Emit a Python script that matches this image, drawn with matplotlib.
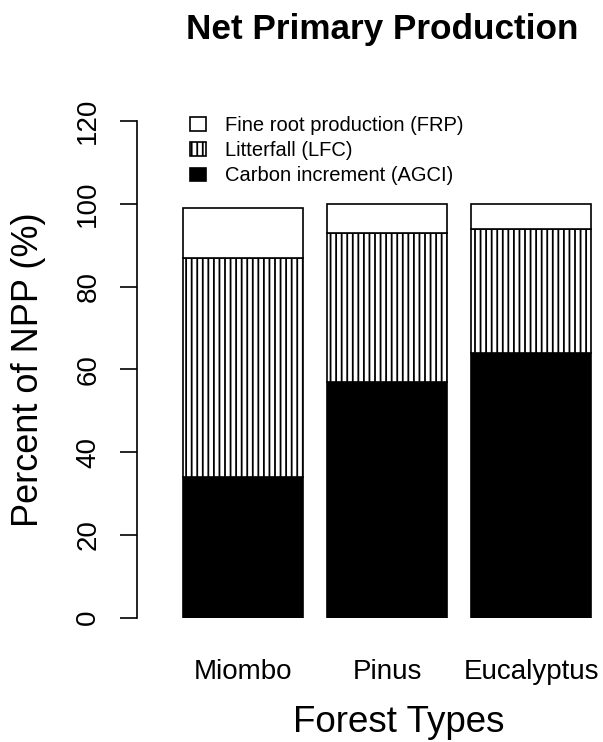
import numpy as np
import matplotlib
matplotlib.use("Agg")
import matplotlib.pyplot as plt

plt.rcParams['font.family'] = ['Liberation Sans', 'DejaVu Sans']
plt.rcParams['hatch.linewidth'] = 1.3

# data (percent of NPP)
forests = ['Miombo', 'Pinus', 'Eucalyptus']
agci = [34, 57, 64]   # carbon increment
lfc = [53, 36, 30]    # litterfall
frp = [12, 7, 6]      # fine root production
yticks = [0, 20, 40, 60, 80, 100, 120]

W, H = 603, 742
fig = plt.figure(figsize=(W / 100, H / 100), dpi=100)

# axes placed in pixel terms
x0, x1 = 136.7, 603
ytop, ybot = 121, 617.7
ax = fig.add_axes([x0 / W, 1 - ybot / H, (x1 - x0) / W, (ybot - ytop) / H])

pos = 0.7 + 1.2 * np.arange(len(forests))
agci = np.array(agci)
lfc = np.array(lfc)
frp = np.array(frp)

kw = dict(width=1.0, edgecolor='black', linewidth=1.2)
b1 = ax.bar(pos, agci, color='black', label='Carbon increment (AGCI)', **kw)
b2 = ax.bar(pos, lfc, bottom=agci, color='white', hatch='|||',
            label='Litterfall (LFC)', **kw)
b3 = ax.bar(pos, frp, bottom=agci + lfc, color='white',
            label='Fine root production (FRP)', **kw)

ax.set_xlim(-0.189, 3.70)
ax.set_ylim(0, 120)
for s in ['top', 'right', 'bottom']:
    ax.spines[s].set_visible(False)
ax.spines['left'].set_linewidth(1.2)
ax.set_xticks([])
ax.set_yticks(yticks)
ax.set_yticklabels([str(v) for v in yticks], rotation=90, va='center',
                   fontsize=20)
ax.tick_params(axis='y', length=12.5, width=1.2, pad=13)

# category labels
trans = matplotlib.transforms.blended_transform_factory(ax.transData,
                                                        fig.transFigure)
for p, name in zip(pos, forests):
    ax.text(p, 1 - 672 / H, name, transform=trans, ha='center',
            va='center', fontsize=20)

fig.text(399 / W, 1 - 723 / H, 'Forest Types', ha='center', va='center',
         fontsize=26.5)
fig.text(29 / W, 1 - 370 / H, 'Percent of NPP (%)', ha='center',
         va='center', rotation=90, fontsize=26)
fig.text(382 / W, 1 - 29 / H, 'Net Primary Production', ha='center',
         va='center', fontsize=25.3, fontweight='bold')

fig.legend(handles=[b3, b2, b1], loc='upper left',
           bbox_to_anchor=(190 / W, 1 - 116 / H), frameon=False,
           fontsize=14.5, handlelength=0.8, handleheight=0.65,
           handletextpad=0.95, labelspacing=0.31, borderpad=0,
           borderaxespad=0)

fig.savefig('out.png', dpi=100)
